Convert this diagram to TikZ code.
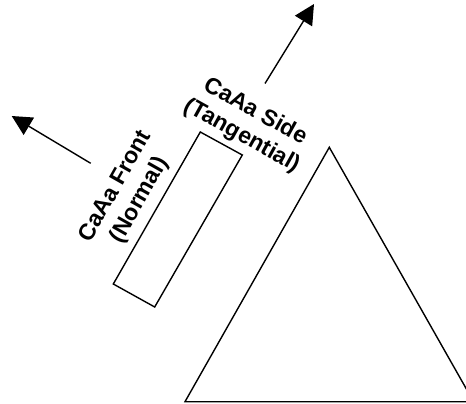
\documentclass[tikz,border=0pt]{standalone}
\usepackage{fontspec}
\setmainfont{Liberation Sans}
\usetikzlibrary{arrows.meta}
\begin{document}
\begin{tikzpicture}[x=1pt,y=-1pt,
  shape line/.style={line width=1.4pt, line join=miter},
  force arrow/.style={line width=1.4pt, -{Triangle[length=20pt,width=20pt]}},
  label text/.style={font=\fontsize{23}{27.5}\selectfont\bfseries, align=center, inner sep=0pt}]
\clip (0,0) rectangle (466,404);
\useasboundingbox (0,0) rectangle (466,404);
% rectangle (block)
\coordinate (r1) at (200.3,132);
\coordinate (r2) at (242.3,155);
\coordinate (r3) at (154.7,307);
\coordinate (r4) at (113.3,284);
\draw[shape line] (r1) -- (r2) -- (r3) -- (r4) -- cycle;
% triangle
\coordinate (t1) at (329.3,147.3);
\coordinate (t2) at (185,401.7);
\coordinate (t3) at (473.6,401.7);
\draw[shape line] (t1) -- (t2) -- (t3) -- cycle;
% arrows
\coordinate (a1s) at (265,83.5);
\coordinate (a1e) at (314,4);
\coordinate (a2s) at (90.7,163.3);
\coordinate (a2e) at (11.7,116);
\draw[force arrow] (a1s) -- (a1e);
\draw[force arrow] (a2s) -- (a2e);
% labels
\node[label text, rotate=-29] (side) at (248.7,124) {CaAa Side\\(Tangential)};
\node[label text, rotate=60.5] (front) at (128,193.5) {CaAa Front\\(Normal)};
\end{tikzpicture}
\end{document}
